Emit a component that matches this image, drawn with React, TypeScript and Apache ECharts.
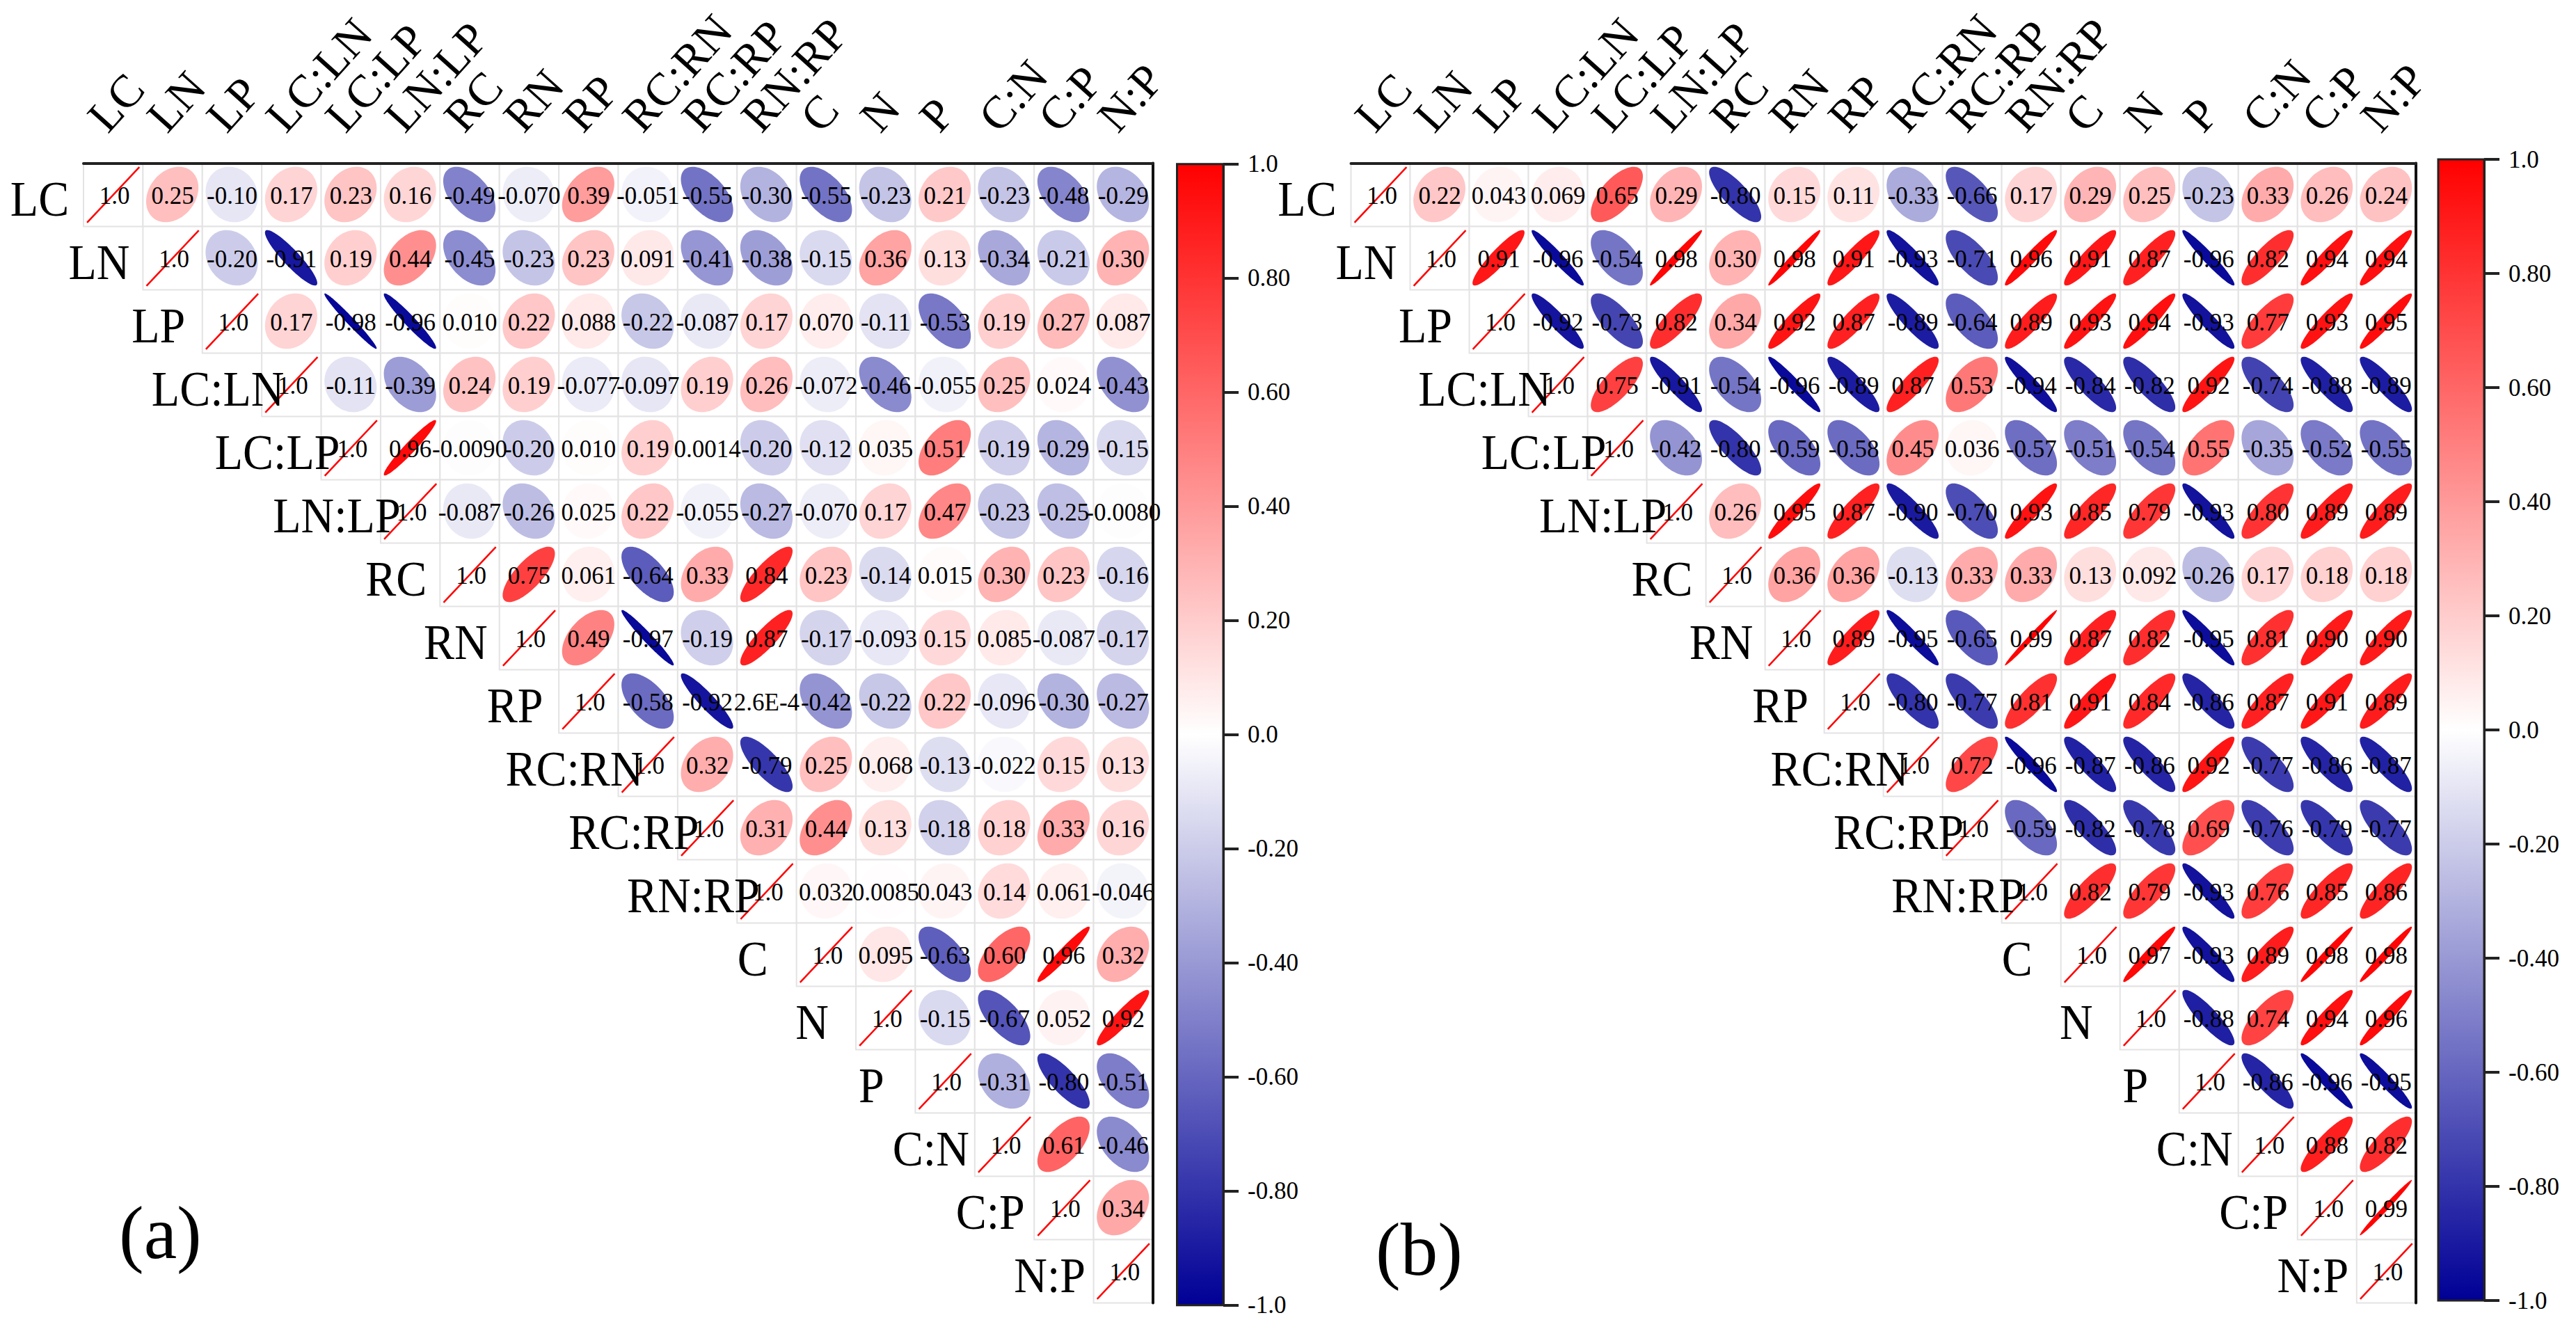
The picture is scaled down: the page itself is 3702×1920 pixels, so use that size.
import React, { useEffect, useRef } from "react";
import * as echarts from "echarts";

const FONT = '"Liberation Serif", "Times New Roman", serif';

const variables = ["LC", "LN", "LP", "LC:LN", "LC:LP", "LN:LP", "RC", "RN", "RP", "RC:RN", "RC:RP", "RN:RP", "C", "N", "P", "C:N", "C:P", "N:P"];
const colorbarTicks = ["-1.0", "-0.80", "-0.60", "-0.40", "-0.20", "0.0", "0.20", "0.40", "0.60", "0.80", "1.0"];

// Upper triangles, one list per row, starting at the diagonal. Text as printed in the figure.
const panelA: string[][] = [
  ["1.0", "0.25", "-0.10", "0.17", "0.23", "0.16", "-0.49", "-0.070", "0.39", "-0.051", "-0.55", "-0.30", "-0.55", "-0.23", "0.21", "-0.23", "-0.48", "-0.29"],
  ["1.0", "-0.20", "-0.91", "0.19", "0.44", "-0.45", "-0.23", "0.23", "0.091", "-0.41", "-0.38", "-0.15", "0.36", "0.13", "-0.34", "-0.21", "0.30"],
  ["1.0", "0.17", "-0.98", "-0.96", "0.010", "0.22", "0.088", "-0.22", "-0.087", "0.17", "0.070", "-0.11", "-0.53", "0.19", "0.27", "0.087"],
  ["1.0", "-0.11", "-0.39", "0.24", "0.19", "-0.077", "-0.097", "0.19", "0.26", "-0.072", "-0.46", "-0.055", "0.25", "0.024", "-0.43"],
  ["1.0", "0.96", "-0.0090", "-0.20", "0.010", "0.19", "0.0014", "-0.20", "-0.12", "0.035", "0.51", "-0.19", "-0.29", "-0.15"],
  ["1.0", "-0.087", "-0.26", "0.025", "0.22", "-0.055", "-0.27", "-0.070", "0.17", "0.47", "-0.23", "-0.25", "-0.0080"],
  ["1.0", "0.75", "0.061", "-0.64", "0.33", "0.84", "0.23", "-0.14", "0.015", "0.30", "0.23", "-0.16"],
  ["1.0", "0.49", "-0.97", "-0.19", "0.87", "-0.17", "-0.093", "0.15", "0.085", "-0.087", "-0.17"],
  ["1.0", "-0.58", "-0.92", "2.6E-4", "-0.42", "-0.22", "0.22", "-0.096", "-0.30", "-0.27"],
  ["1.0", "0.32", "-0.79", "0.25", "0.068", "-0.13", "-0.022", "0.15", "0.13"],
  ["1.0", "0.31", "0.44", "0.13", "-0.18", "0.18", "0.33", "0.16"],
  ["1.0", "0.032", "0.0085", "0.043", "0.14", "0.061", "-0.046"],
  ["1.0", "0.095", "-0.63", "0.60", "0.96", "0.32"],
  ["1.0", "-0.15", "-0.67", "0.052", "0.92"],
  ["1.0", "-0.31", "-0.80", "-0.51"],
  ["1.0", "0.61", "-0.46"],
  ["1.0", "0.34"],
  ["1.0"],
];

const panelB: string[][] = [
  ["1.0", "0.22", "0.043", "0.069", "0.65", "0.29", "-0.80", "0.15", "0.11", "-0.33", "-0.66", "0.17", "0.29", "0.25", "-0.23", "0.33", "0.26", "0.24"],
  ["1.0", "0.91", "-0.96", "-0.54", "0.98", "0.30", "0.98", "0.91", "-0.93", "-0.71", "0.96", "0.91", "0.87", "-0.96", "0.82", "0.94", "0.94"],
  ["1.0", "-0.92", "-0.73", "0.82", "0.34", "0.92", "0.87", "-0.89", "-0.64", "0.89", "0.93", "0.94", "-0.93", "0.77", "0.93", "0.95"],
  ["1.0", "0.75", "-0.91", "-0.54", "-0.96", "-0.89", "0.87", "0.53", "-0.94", "-0.84", "-0.82", "0.92", "-0.74", "-0.88", "-0.89"],
  ["1.0", "-0.42", "-0.80", "-0.59", "-0.58", "0.45", "0.036", "-0.57", "-0.51", "-0.54", "0.55", "-0.35", "-0.52", "-0.55"],
  ["1.0", "0.26", "0.95", "0.87", "-0.90", "-0.70", "0.93", "0.85", "0.79", "-0.93", "0.80", "0.89", "0.89"],
  ["1.0", "0.36", "0.36", "-0.13", "0.33", "0.33", "0.13", "0.092", "-0.26", "0.17", "0.18", "0.18"],
  ["1.0", "0.89", "-0.95", "-0.65", "0.99", "0.87", "0.82", "-0.95", "0.81", "0.90", "0.90"],
  ["1.0", "-0.80", "-0.77", "0.81", "0.91", "0.84", "-0.86", "0.87", "0.91", "0.89"],
  ["1.0", "0.72", "-0.96", "-0.87", "-0.86", "0.92", "-0.77", "-0.86", "-0.87"],
  ["1.0", "-0.59", "-0.82", "-0.78", "0.69", "-0.76", "-0.79", "-0.77"],
  ["1.0", "0.82", "0.79", "-0.93", "0.76", "0.85", "0.86"],
  ["1.0", "0.97", "-0.93", "0.89", "0.98", "0.98"],
  ["1.0", "-0.88", "0.74", "0.94", "0.96"],
  ["1.0", "-0.86", "-0.96", "-0.95"],
  ["1.0", "0.88", "0.82"],
  ["1.0", "0.99"],
  ["1.0"],
];

const LOW = [0, 0, 150];
const HIGH = [255, 0, 0];

function colorOf(v: number) {
  const t = Math.min(1, Math.abs(v));
  const end = v < 0 ? LOW : HIGH;
  const mix = end.map((c) => Math.round(255 + (c - 255) * t));
  return `rgb(${mix[0]},${mix[1]},${mix[2]})`;
}

// Correlation ellipse: fills a fixed box, narrowing to a line as |r| approaches 1.
function ellipsePoints(cx: number, cy: number, w: number, h: number, r: number) {
  const d = Math.acos(Math.max(-1, Math.min(1, r)));
  const pts: number[][] = [];
  for (let i = 0; i < 96; i++) {
    const t = (i / 96) * Math.PI * 2;
    pts.push([cx + (w / 2) * Math.cos(t + d / 2), cy - (h / 2) * Math.cos(t - d / 2)]);
  }
  return pts;
}

function buildCells(rows: string[][]) {
  const cells: { col: number; row: number; r: number; text: string }[] = [];
  rows.forEach((list, row) =>
    list.forEach((text, i) => cells.push({ col: row + i, row, r: Number(text), text })),
  );
  return cells;
}

function panel(
  rows: string[][],
  index: number,
  g: { left: number; width: number; top: number; height: number },
  bar: { left: number; width: number; top: number; height: number },
) {
  const cells = buildCells(rows);
  const data = cells.map((c) => [c.col, c.row, c.r]);
  const a0 = index * 2;
  const a1 = index * 2 + 1;
  const grids = [
    { left: g.left, top: g.top, width: g.width, height: g.height, containLabel: false },
    { left: bar.left, top: bar.top, width: bar.width, height: bar.height, containLabel: false },
  ];
  const xAxes = [
    {
      gridIndex: a0,
      type: "category",
      position: "top",
      z: 10,
      data: variables,
      axisLine: { show: true, onZero: false, lineStyle: { color: "#222", width: 4 } },
      axisTick: { show: false },
      splitLine: { show: false },
      axisLabel: {
        interval: 0,
        rotate: -48,
        align: "left",
        verticalAlign: "bottom",
        margin: 34,
        fontFamily: FONT,
        fontSize: 66,
        color: "#000",
      },
    },
    { gridIndex: a1, type: "value", min: 0, max: 1, show: false },
  ];
  const yAxes = [
    {
      gridIndex: a0,
      type: "category",
      inverse: true,
      position: "right",
      z: 10,
      data: variables,
      axisLine: { show: true, onZero: false, lineStyle: { color: "#111", width: 4 } },
      axisTick: { show: false },
      axisLabel: { show: false },
      splitLine: { show: false },
    },
    {
      gridIndex: a1,
      type: "value",
      position: "right",
      z: 10,
      min: -1,
      max: 1,
      interval: 0.2,
      axisLine: { show: true, onZero: false, lineStyle: { color: "#222", width: 3 } },
      axisTick: { show: true, length: 22, lineStyle: { color: "#222", width: 4 } },
      splitLine: { show: false },
      axisLabel: {
        margin: 35,
        fontFamily: FONT,
        fontSize: 35,
        color: "#000",
        formatter: (v: number) => colorbarTicks[Math.round((v + 1) / 0.2)],
      },
    },
  ];
  const series = [
    {
      type: "custom",
      coordinateSystem: "cartesian2d",
      xAxisIndex: a0,
      yAxisIndex: a0,
      encode: { x: 0, y: 1 },
      data,
      silent: true,
      clip: false,
      z: 2,
      renderItem: (params: any, api: any) => {
        const c = cells[params.dataIndex];
        const [cx, cy] = api.coord([c.col, c.row]);
        const [w, h] = api.size([1, 1]);
        const ew = w * 0.88;
        const eh = h * 0.875;
        const pts = ellipsePoints(cx - 0.5, cy - 0.5, ew, eh, c.r);
        const isLine = Math.abs(c.r) >= 0.9999;
        return {
          type: "group",
          children: [
            {
              type: "rect",
              shape: { x: cx - w / 2, y: cy - h / 2, width: w, height: h },
              style: { fill: "#fff", stroke: "#e3e3e3", lineWidth: 2 },
            },
            isLine
              ? {
                  type: "line",
                  shape: { x1: cx - ew / 2, y1: cy + eh / 2, x2: cx + ew / 2, y2: cy - eh / 2 },
                  style: { stroke: "#ff0000", lineWidth: 2.5 },
                }
              : {
                  type: "polygon",
                  shape: { points: pts },
                  style: { fill: colorOf(c.r) },
                },
          ],
        };
      },
    },
    {
      type: "custom",
      coordinateSystem: "cartesian2d",
      xAxisIndex: a0,
      yAxisIndex: a0,
      encode: { x: 0, y: 1 },
      data,
      silent: true,
      clip: false,
      z: 3,
      renderItem: (params: any, api: any) => {
        const c = cells[params.dataIndex];
        const [cx, cy] = api.coord([c.col, c.row]);
        return {
          type: "text",
          style: {
            x: cx + (c.col === c.row ? 2 : 0),
            y: cy + 1,
            text: c.text,
            align: "center",
            verticalAlign: "middle",
            fill: "#000",
            font: `35px ${FONT}`,
          },
        };
      },
    },
    {
      type: "custom",
      coordinateSystem: "cartesian2d",
      xAxisIndex: a0,
      yAxisIndex: a0,
      encode: { x: 0, y: 1 },
      data: variables.map((_, i) => [i, i]),
      silent: true,
      clip: false,
      z: 4,
      renderItem: (params: any, api: any) => {
        const i = params.dataIndex;
        const [cx, cy] = api.coord([i, i]);
        const [w] = api.size([1, 1]);
        return {
          type: "text",
          x: cx - w / 2 - 63,
          y: cy + 6,
          scaleY: 1.08,
          style: {
            x: 0,
            y: 0,
            text: variables[i],
            align: "center",
            verticalAlign: "middle",
            fill: "#000",
            font: `66px ${FONT}`,
          },
        };
      },
    },
    {
      type: "custom",
      coordinateSystem: "cartesian2d",
      xAxisIndex: a1,
      yAxisIndex: a1,
      encode: { x: 0, y: 1 },
      data: [[0, 1]],
      silent: true,
      clip: false,
      z: 1,
      renderItem: (_: any, api: any) => {
        const [x0, y0] = api.coord([0, 1]);
        const [x1, y1] = api.coord([1, -1]);
        return {
          type: "rect",
          shape: { x: x0, y: y0, width: x1 - x0, height: y1 - y0 },
          style: {
            stroke: "#222",
            lineWidth: 3,
            fill: new echarts.graphic.LinearGradient(0, 0, 0, 1, [
              { offset: 0, color: colorOf(1) },
              { offset: 0.5, color: "#ffffff" },
              { offset: 1, color: colorOf(-1) },
            ]),
          },
        };
      },
    },
  ];
  return { grids, xAxes, yAxes, series };
}

export default function App() {
  const ref = useRef<HTMLDivElement>(null);
  useEffect(() => {
    const chart = echarts.init(ref.current!, null, { renderer: "svg" });
    const a = panel(
      panelA,
      0,
      { left: 120, width: 1537, top: 234.5, height: 1638 },
      { left: 1691.5, width: 66.5, top: 235.7, height: 1640 },
    );
    const b = panel(
      panelB,
      1,
      { left: 1941.5, width: 1530.3, top: 234.5, height: 1638 },
      { left: 3504, width: 66, top: 229, height: 1640 },
    );
    chart.setOption({
      animation: false,
      backgroundColor: "#fff",
      grid: [...a.grids, ...b.grids],
      xAxis: [...a.xAxes, ...b.xAxes],
      yAxis: [...a.yAxes, ...b.yAxes],
      series: [...a.series, ...b.series],
      graphic: [
        {
          type: "text",
          left: 171,
          top: 1718,
          style: { text: "(a)", fill: "#000", font: `107px ${FONT}` },
        },
        {
          type: "text",
          left: 1977,
          top: 1742,
          style: { text: "(b)", fill: "#000", font: `107px ${FONT}` },
        },
      ],
    });
    return () => chart.dispose();
  }, []);
  return (
    <div
      ref={ref}
      style={{ position: "fixed", left: 0, top: 0, width: 3702, height: 1920, background: "#fff" }}
    />
  );
}
